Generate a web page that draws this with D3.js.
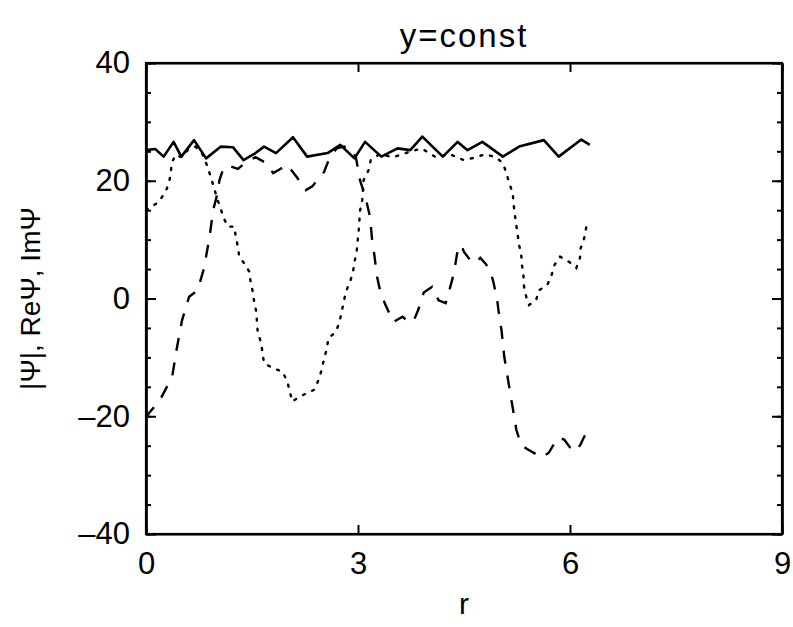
<!DOCTYPE html>
<html>
<head>
<meta charset="utf-8">
<script src="https://cdn.jsdelivr.net/npm/d3@7"></script>
<style>
  html, body { margin: 0; padding: 0; background: #fff; }
  svg { display: block; }
  text { font-family: "Liberation Sans", Arial, sans-serif; fill: #000; }
</style>
</head>
<body>
<svg id="chart" width="793" height="627"></svg>
<script>
// |Psi| along the cut
const rAbs = [0.0,0.13,0.25,0.39,0.5,0.68,0.85,1.06,1.23,1.38,1.55,1.67,1.84,2.08,2.28,2.57,2.75,2.95,3.1,3.33,3.56,3.74,3.91,4.2,4.41,4.55,4.76,5.05,5.28,5.63,5.84,6.16,6.28];
const absPsi = [25.2,25.4,24.1,26.6,24.1,26.9,23.8,25.8,25.7,23.5,24.7,25.8,24.7,27.4,24.1,24.7,26.1,23.8,26.6,24.1,25.5,25.2,27.5,24.1,26.6,25.2,26.6,24.1,25.8,26.9,24.1,27.0,26.1];

// Re Psi
const rRe = [0,0.04,0.2,0.37,0.44,0.51,0.61,0.73,0.82,0.9,0.95,1.0,1.04,1.1,1.18,1.3,1.4,1.55,1.7,1.8,1.9,2.0,2.14,2.26,2.35,2.45,2.52,2.6,2.7,2.8,2.9,2.97,3.03,3.1,3.17,3.2,3.23,3.27,3.32,3.39,3.5,3.63,3.7,3.78,3.85,3.93,4.05,4.14,4.24,4.32,4.36,4.41,4.46,4.5,4.59,4.66,4.73,4.8,4.87,4.92,4.97,4.99,5.03,5.05,5.07,5.1,5.14,5.17,5.21,5.24,5.31,5.41,5.5,5.6,5.7,5.77,5.85,5.92,6.0,6.08,6.15,6.2,6.23];
const rePsi = [-20.2,-19.5,-17.2,-13.3,-8.2,-3.7,0.3,1.4,5.1,10.5,15.0,17.3,20.1,22.3,22.5,22.0,23.0,24.0,23.0,21.3,22.0,22.7,20.5,18.4,19.0,20.5,21.5,24.0,25.5,25.8,25.5,24.0,20.0,17.5,13.9,9.9,7.5,3.7,0.9,-1.1,-4.0,-3.1,-3.8,-4.0,-2.0,1.0,2.0,-0.3,-0.8,2.6,4.5,8.2,9.1,7.9,6.5,6.0,6.9,6.0,4.8,2.6,-0.3,-2.2,-5.3,-7.6,-9.9,-12.1,-15.0,-17.2,-20.0,-22.3,-24.9,-25.7,-26.3,-27.0,-26.2,-24.8,-23.6,-24.0,-25.3,-26.0,-24.8,-23.5,-23.0];

// Im Psi
const rIm = [0,0.18,0.28,0.33,0.37,0.42,0.5,0.6,0.7,0.8,0.87,0.92,0.97,1.02,1.05,1.09,1.16,1.25,1.27,1.3,1.32,1.4,1.46,1.48,1.51,1.53,1.56,1.58,1.63,1.67,1.81,1.93,2.0,2.07,2.17,2.29,2.38,2.45,2.49,2.52,2.56,2.58,2.69,2.74,2.77,2.83,2.89,2.93,2.95,2.98,3.01,3.03,3.06,3.08,3.15,3.18,3.3,3.5,3.7,3.9,4.1,4.3,4.5,4.64,4.8,4.95,5.05,5.1,5.14,5.19,5.2,5.22,5.24,5.26,5.28,5.31,5.32,5.34,5.35,5.38,5.42,5.52,5.56,5.68,5.74,5.78,5.86,5.99,6.09,6.14,6.15,6.2,6.23];
const imPsi = [15.0,16.4,18.2,19.8,23.2,24.4,24.0,25.3,25.8,24.5,22.4,20.5,18.5,16.5,15.6,13.9,12.2,12.2,10.5,8.8,7.1,5.8,4.6,2.9,1.2,-0.5,-2.2,-5.6,-7.6,-11.0,-11.9,-12.4,-14.1,-17.5,-16.7,-16.0,-15.5,-13.6,-11.9,-10.2,-8.5,-6.8,-5.6,-3.9,-2.2,1.2,2.9,4.6,6.2,7.9,11.6,15.0,16.7,20.1,21.8,23.5,24.5,24.0,24.8,25.5,24.0,24.5,23.5,23.9,24.5,24.0,23.0,21.3,19.6,17.9,16.2,14.2,12.5,10.8,9.1,7.4,5.7,4.0,2.0,0.3,-1.1,-0.3,1.4,2.3,4.0,5.7,7.1,6.2,5.2,6.8,8.5,10.2,12.1];

const xTicks = [0, 3, 6, 9];
const yTicks = [-40, -20, 0, 20, 40];
const yMinor = d3.range(-40, 41, 5);

const svg = d3.select("#chart");
const L = 146, R = 782, T = 63, B = 534;

const x = d3.scaleLinear().domain([0, 9]).range([L, R]);
const y = d3.scaleLinear().domain([-40, 40]).range([B, T]);

const line = d3.line().x(d => x(d[0])).y(d => y(d[1]));
const pairs = (rs, vs) => rs.map((r, i) => [r, vs[i]]);

const plot = svg.append("g");
plot.append("path").datum(pairs(rIm, imPsi)).attr("d", line)
  .attr("fill", "none").attr("stroke", "#000").attr("stroke-width", 2.4)
  .attr("stroke-dasharray", "2,8").attr("stroke-linecap", "round");
plot.append("path").datum(pairs(rRe, rePsi)).attr("d", line)
  .attr("fill", "none").attr("stroke", "#000").attr("stroke-width", 2.4)
  .attr("stroke-dasharray", "13,12");
plot.append("path").datum(pairs(rAbs, absPsi)).attr("d", line)
  .attr("fill", "none").attr("stroke", "#000").attr("stroke-width", 2.6)
  .attr("stroke-linejoin", "round");

// axes: labelled left/bottom, mirrored ticks on top/right
const axisStyle = g => {
  g.select(".domain").attr("stroke", "#000").attr("stroke-width", 2.2);
  g.selectAll(".tick line").attr("stroke", "#000").attr("stroke-width", 2);
};

svg.append("g").attr("transform", `translate(0,${B})`)
  .call(d3.axisBottom(x).tickValues(xTicks).tickSize(-9).tickSizeOuter(0).tickPadding(18).tickFormat(d3.format("d")))
  .call(axisStyle)
  .call(g => g.selectAll("text").style("font-size", "31px"));
svg.append("g").attr("transform", `translate(0,${T})`)
  .call(d3.axisTop(x).tickValues(xTicks).tickSize(-9).tickSizeOuter(0).tickFormat(""))
  .call(axisStyle);

svg.append("g").attr("transform", `translate(${L},0)`)
  .call(d3.axisLeft(y).tickValues(yMinor).tickSize(-5).tickSizeOuter(0).tickFormat(""))
  .call(axisStyle);
svg.append("g").attr("transform", `translate(${L},0)`)
  .call(d3.axisLeft(y).tickValues(yTicks).tickSize(-10).tickSizeOuter(0).tickPadding(16)
    .tickFormat(d => d < 0 ? "\u2013" + Math.abs(d) : d))
  .call(axisStyle)
  .call(g => g.selectAll("text").style("font-size", "31px"));
svg.append("g").attr("transform", `translate(${R},0)`)
  .call(d3.axisRight(y).tickValues(yMinor).tickSize(-5).tickSizeOuter(0).tickFormat(""))
  .call(axisStyle);
svg.append("g").attr("transform", `translate(${R},0)`)
  .call(d3.axisRight(y).tickValues(yTicks).tickSize(-10).tickSizeOuter(0).tickFormat(""))
  .call(axisStyle);

// frame
svg.append("rect").attr("x", L).attr("y", T).attr("width", R - L).attr("height", B - T)
  .attr("fill", "none").attr("stroke", "#000").attr("stroke-width", 2.2);

// titles
svg.append("text").attr("x", (L + R) / 2).attr("y", 47).attr("text-anchor", "middle")
  .style("font-size", "33px").style("letter-spacing", "2px").text("y=const");
svg.append("text").attr("x", (L + R) / 2).attr("y", 614).attr("text-anchor", "middle")
  .style("font-size", "30px").text("r");
svg.append("text").attr("transform", `translate(40,${(T + B) / 2}) rotate(-90)`)
  .attr("text-anchor", "middle").style("font-size", "28px")
  .text("|\u03A8|, Re\u03A8, Im\u03A8");
</script>
</body>
</html>
